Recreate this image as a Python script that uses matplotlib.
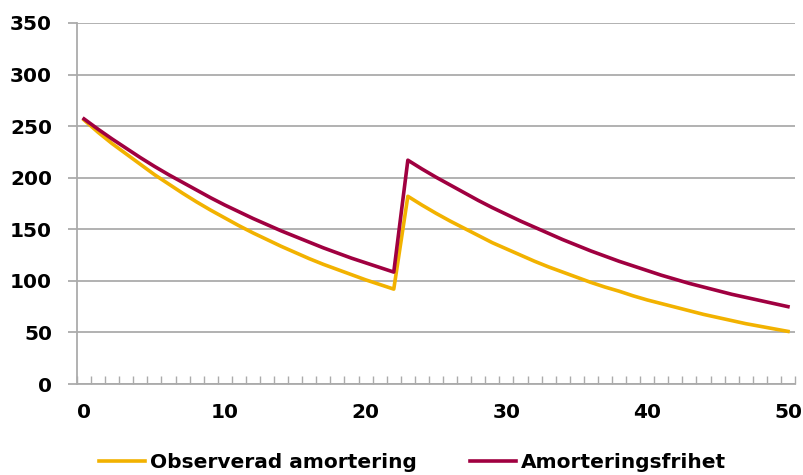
import matplotlib
matplotlib.use("Agg")
import matplotlib.pyplot as plt
from matplotlib.ticker import FixedLocator, NullFormatter

plt.rcParams['font.family'] = ['DejaVu Sans']

# Years 0..50
years = list(range(51))

observerad = [256, 244, 233, 223, 213, 203, 194, 185, 176.5, 168.5,
              161, 153.5, 146.5, 140, 133.5, 127.5, 121.5, 116, 111, 106,
              101, 96.5, 92,
              182, 173.5, 165.5, 158, 151, 144, 137, 131, 125, 119,
              113.5, 108.5, 103.5, 98.5, 94, 90, 85.5, 81.5, 78, 74.5,
              71, 67.5, 64.5, 61.5, 58.5, 56, 53.5, 51]

amorteringsfrihet = [257, 247, 237.5, 228.5, 219.5, 211, 203, 195.5, 188, 180.5,
                     173.5, 167, 160.5, 154.5, 148.5, 143, 137.5, 132, 127, 122,
                     117.5, 113, 108.5,
                     217, 208.5, 200.5, 193, 185.5, 178, 171, 164.5, 158, 152,
                     146, 140, 134.5, 129, 124, 119, 114.5, 110, 105.5, 101.5,
                     97.5, 94, 90.5, 87, 84, 81, 78, 75]

series_labels = ["Observerad amortering", "Amorteringsfrihet"]
y_ticks = [0, 50, 100, 150, 200, 250, 300, 350]
x_tick_labels = [0, 10, 20, 30, 40, 50]

yellow = "#F2B200"
crimson = "#A00040"
grid_grey = "#ABABAB"
fs = 14.5

fig = plt.figure(figsize=(8.04, 4.75), dpi=100)
ax = fig.add_axes([77 / 804, 1 - 384 / 475, (795 - 77) / 804, (384 - 23) / 475])

ax.plot(years, observerad, color=yellow, lw=2.6, label=series_labels[0],
        solid_joinstyle="round", zorder=3)
ax.plot(years, amorteringsfrihet, color=crimson, lw=2.6, label=series_labels[1],
        solid_joinstyle="round", zorder=4)

ax.set_xlim(-0.5, 50.5)
ax.set_ylim(0, 350)

# y axis
ax.set_yticks(y_ticks)
ax.yaxis.grid(True, color=grid_grey, lw=1.3)
ax.set_axisbelow(True)
ax.tick_params(axis="y", direction="out", length=6.5, width=1.3, color=grid_grey,
               labelsize=fs, pad=11.5)

# x axis: ticks between categories, labels every 10
ax.xaxis.set_major_locator(FixedLocator(x_tick_labels))
ax.set_xticklabels([str(v) for v in x_tick_labels])
ax.xaxis.set_minor_locator(FixedLocator([i - 0.5 for i in range(52)]))
ax.xaxis.set_minor_formatter(NullFormatter())
ax.tick_params(axis="x", which="major", length=0, labelsize=fs, pad=14)
ax.tick_params(axis="x", which="minor", direction="in", length=5.5, width=1.0,
               color=grid_grey)

for lab in ax.get_xticklabels() + ax.get_yticklabels():
    lab.set_fontweight("bold")
    lab.set_color("#000000")

for side in ("top", "right"):
    ax.spines[side].set_visible(False)
for side in ("left", "bottom"):
    ax.spines[side].set_color(grid_grey)
    ax.spines[side].set_linewidth(1.3)

leg = fig.legend(loc="center", bbox_to_anchor=(0.513, 0.027), ncol=2,
                 frameon=False, handlelength=2.3, handletextpad=0.25,
                 columnspacing=2.6, prop={"weight": "bold", "size": fs})

fig.savefig("out.png", dpi=100)
